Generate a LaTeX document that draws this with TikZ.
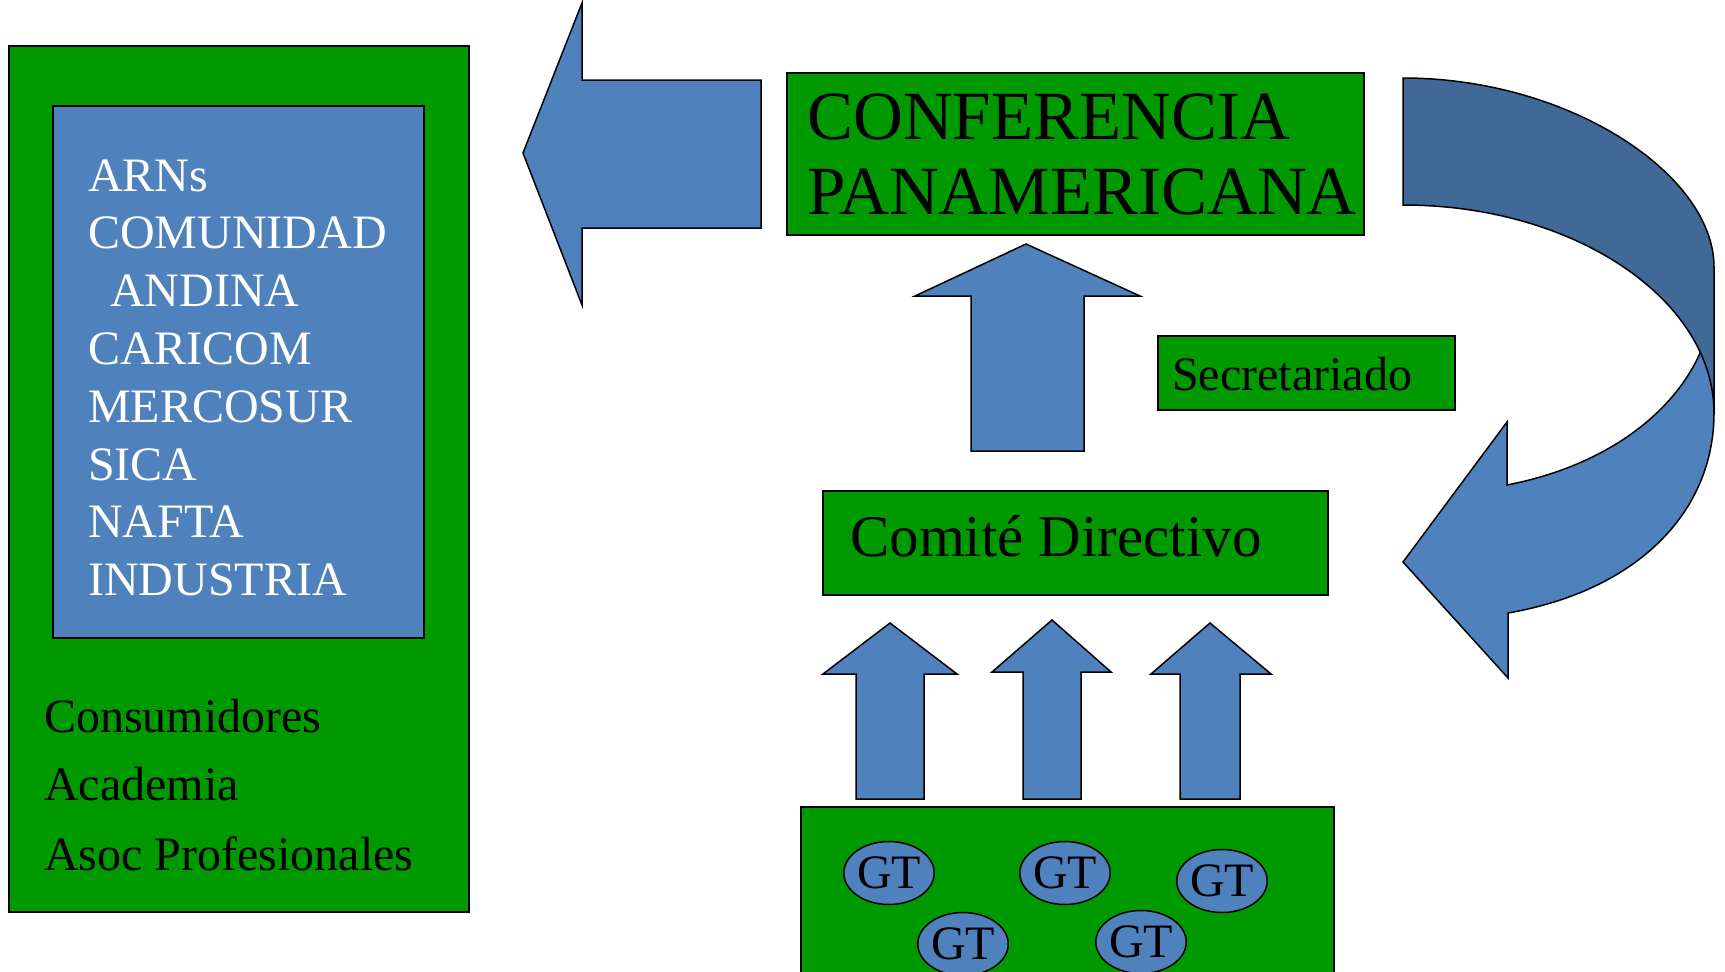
\documentclass[tikz,border=0pt]{standalone}
\usepackage{fontspec}
\setmainfont{Liberation Serif}
\usetikzlibrary{shapes.geometric}
\definecolor{gr}{RGB}{0,153,0}
\definecolor{lb}{RGB}{79,129,189}
\definecolor{db}{RGB}{65,105,152}
\tikzset{
  gbox/.style={draw=black, line width=1.5pt, fill=gr, inner sep=0pt},
  bbox/.style={draw=black, line width=1.5pt, fill=lb, inner sep=0pt},
  arrowshape/.style={draw=black, line width=1.5pt, fill=lb, line join=miter},
  darkshape/.style={draw=black, line width=1.5pt, fill=db, line join=miter},
  wtxt/.style={text=white, anchor=base west, inner sep=0pt, font=\fontsize{48}{58}\selectfont},
  btxt/.style={text=black, anchor=base west, inner sep=0pt, font=\fontsize{48}{58}\selectfont},
  gt/.style={ellipse, draw=black, line width=1.5pt, fill=lb, minimum width=89pt, minimum height=63pt, inner sep=0pt, font=\fontsize{48}{52}\selectfont}
}
\begin{document}
\begin{tikzpicture}[x=1pt,y=-1pt]
\useasboundingbox (0,0) rectangle (1725,972);
\clip (0,0) rectangle (1725,972);
% left group
\node[gbox, minimum width=460pt, minimum height=866pt] (grupo) at (239,479) {};
\node[bbox, minimum width=371pt, minimum height=532pt] (lista) at (238.5,372) {};
\node[wtxt] (l1) at (88,191) {ARNs};
\node[wtxt] (l2) at (88,248.8) {COMUNIDAD};
\node[wtxt] (l3) at (110,306.6) {ANDINA};
\node[wtxt] (l4) at (88,364.4) {CARICOM};
\node[wtxt] (l5) at (88,422.2) {MERCOSUR};
\node[wtxt] (l6) at (88,480) {SICA};
\node[wtxt] (l7) at (88,537.8) {NAFTA};
\node[wtxt] (l8) at (88,595.6) {INDUSTRIA};
\node[btxt] (c1) at (44,732) {Consumidores};
\node[btxt] (c2) at (44,800) {Academia};
\node[btxt] (c3) at (44,870) {Asoc Profesionales};
% big left arrow
\draw[arrowshape] (761,80) -- (582,80) -- (582,3) -- (523,153) -- (582,305) -- (582,228) -- (761,228) -- cycle;
% conferencia
\node[gbox, minimum width=577pt, minimum height=162pt] (conf) at (1075.5,154) {};
\node[btxt, font=\fontsize{69}{76}\selectfont] (conf1) at (807,139) {CONFERENCIA};
\node[btxt, font=\fontsize{69}{76}\selectfont] (conf2) at (807,214) {PANAMERICANA};
% big up arrow
\draw[arrowshape] (971,451) -- (971,296) -- (915,296) -- (1026,244) -- (1140,296) -- (1084,296) -- (1084,451) -- cycle;
% secretariado
\node[gbox, minimum width=297pt, minimum height=74pt] (secr) at (1306.5,373) {};
\node[btxt] (secrt) at (1172,390) {Secretariado};
% comite
\node[gbox, minimum width=505pt, minimum height=104pt] (comite) at (1075.5,543) {};
\node[btxt, font=\fontsize{59}{68}\selectfont] (comitet) at (850,556) {Comité Directivo};
% small arrows
\draw[arrowshape] (856,799) -- (856,674) -- (823,674) -- (890,623) -- (957,674) -- (924,674) -- (924,799) -- cycle;
\draw[arrowshape] (1023,799) -- (1023,672) -- (992,672) -- (1052,620) -- (1111,672) -- (1081,672) -- (1081,799) -- cycle;
\draw[arrowshape] (1180,799) -- (1180,674) -- (1151,674) -- (1210,623) -- (1271,674) -- (1240,674) -- (1240,799) -- cycle;
% GT box
\node[gbox, minimum width=533pt, minimum height=183pt] (gtbox) at (1067.5,898.5) {};
\node[gt] (gt1) at (889,873) {GT};
\node[gt] (gt2) at (1065,873) {GT};
\node[gt] (gt3) at (1222,881) {GT};
\node[gt] (gt4) at (963,944) {GT};
\node[gt] (gt5) at (1141,942) {GT};
% curved arrow: light part
\draw[arrowshape] (1700,353) .. controls (1675,410) and (1610,465) .. (1507,485)
  -- (1507,422) -- (1403,562) -- (1508,678) -- (1508,613)
  .. controls (1640,590) and (1714,510) .. (1714,413) -- (1714,300) -- cycle;
% curved arrow: dark part
\draw[darkshape] (1403,78) .. controls (1570,78) and (1714,175) .. (1714,267)
  -- (1714,413) .. controls (1714,300) and (1575,205) .. (1403,205) -- cycle;
\end{tikzpicture}
\end{document}
